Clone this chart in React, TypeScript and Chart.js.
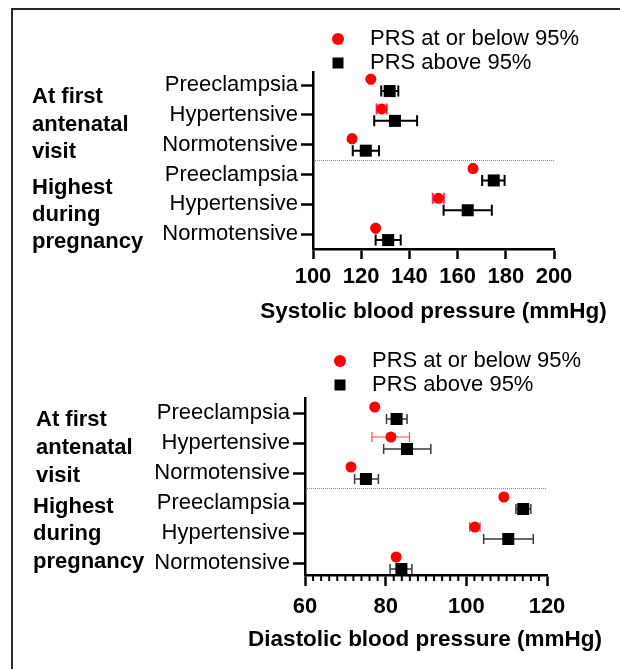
import React, { useEffect, useRef } from "react";
import { Chart, registerables } from "chart.js";

Chart.register(...registerables);

// ---------------- data ----------------
const categories = [
  "Preeclampsia",
  "Hypertensive",
  "Normotensive",
  "Preeclampsia",
  "Hypertensive",
  "Normotensive",
];
const groupFirst = ["At first", "antenatal", "visit"];
const groupHighest = ["Highest", "during", "pregnancy"];
const seriesNames = ["PRS at or below 95%", "PRS above 95%"];

// Systolic (mmHg)
const sysTicks = [100, 120, 140, 160, 180, 200];
const sysBelowMean = [124, 128.5, 116.2, 166.4, 152, 126];
const sysBelowLo = [123.4, 126.4, 115.6, 165.8, 149.7, 125.4];
const sysBelowHi = [124.6, 130.6, 116.8, 167.0, 154.3, 126.6];
const sysAboveMean = [131.8, 134, 121.9, 175, 164.2, 131.2];
const sysAboveLo = [128.3, 125.4, 116.5, 170.2, 154.2, 126];
const sysAboveHi = [135.4, 143.2, 127.4, 179.5, 174.2, 136.4];

// Diastolic (mmHg)
const diaTicks = [60, 80, 100, 120];
const diaBelowMean = [77.3, 81.3, 71.4, 109.3, 102.1, 82.6];
const diaBelowLo = [77.0, 76.6, 71.1, 109.0, 100.8, 82.3];
const diaBelowHi = [77.6, 85.9, 71.7, 109.6, 103.4, 82.9];
const diaAboveMean = [82.7, 85.3, 75.1, 114.1, 110.4, 83.9];
const diaAboveLo = [80.2, 79.5, 72.3, 112.3, 104.3, 81.1];
const diaAboveHi = [85.3, 91.2, 78.2, 116.0, 116.6, 86.5];

// ---------------- styling ----------------
const FONT = "'Liberation Sans', Arial, Helvetica, sans-serif";
const RED_OFF = -0.2;
const BLACK_OFF = 0.2;

// ---------------- plugins ----------------
const errorBarPlugin = {
  id: "errorBars",
  beforeDatasetsDraw(chart: any) {
    const ctx = chart.ctx;
    const xs = chart.scales.x;
    const ys = chart.scales.y;
    chart.data.datasets.forEach((ds: any) => {
      if (!ds.errLo) return;
      ctx.save();
      ctx.strokeStyle = ds.errColor;
      ctx.lineWidth = ds.errWidth;
      ds.data.forEach((p: any, i: number) => {
        const y = ys.getPixelForValue(p.y);
        const x1 = xs.getPixelForValue(ds.errLo[i]);
        const x2 = xs.getPixelForValue(ds.errHi[i]);
        const c = ds.capHalf;
        ctx.beginPath();
        ctx.moveTo(x1, y);
        ctx.lineTo(x2, y);
        ctx.moveTo(x1, y - c);
        ctx.lineTo(x1, y + c);
        ctx.moveTo(x2, y - c);
        ctx.lineTo(x2, y + c);
        ctx.stroke();
      });
      ctx.restore();
    });
  },
};

const separatorPlugin = {
  id: "separator",
  beforeDatasetsDraw(chart: any, _args: any, opts: any) {
    if (opts == null || opts.value == null) return;
    const { ctx, chartArea } = chart;
    const y = Math.round(chart.scales.y.getPixelForValue(opts.value)) + 0.5;
    ctx.save();
    ctx.strokeStyle = "#8a8a8a";
    ctx.lineWidth = 1;
    ctx.setLineDash([1, 1]);
    ctx.beginPath();
    ctx.moveTo(chartArea.left + 2, y);
    ctx.lineTo(chartArea.right, y);
    ctx.stroke();
    ctx.restore();
  },
};

const minorTickPlugin = {
  id: "minorTicks",
  afterDraw(chart: any, _args: any, opts: any) {
    if (!opts || !opts.step) return;
    const { ctx, chartArea } = chart;
    const xs = chart.scales.x;
    ctx.save();
    ctx.strokeStyle = "#000";
    ctx.lineWidth = opts.width;
    for (let v = xs.min; v <= xs.max + 1e-9; v += opts.step) {
      if (Math.abs(v % opts.major) < 1e-9) continue;
      const x = xs.getPixelForValue(v);
      ctx.beginPath();
      ctx.moveTo(x, chartArea.bottom);
      ctx.lineTo(x, chartArea.bottom + opts.length);
      ctx.stroke();
    }
    ctx.restore();
  },
};

const panelTextPlugin = {
  id: "panelText",
  afterDraw(chart: any, _args: any, opts: any) {
    if (!opts) return;
    const ctx = chart.ctx;
    ctx.save();
    ctx.fillStyle = "#000";
    ctx.textBaseline = "middle";
    ctx.textAlign = "left";
    // legend
    const lg = opts.legend;
    chart.data.datasets.forEach((ds: any, i: number) => {
      const y = lg.y + i * lg.dy;
      ctx.fillStyle = ds.backgroundColor;
      if (ds.pointStyle === "circle") {
        ctx.beginPath();
        ctx.arc(lg.markerX, y, 6, 0, Math.PI * 2);
        ctx.fill();
      } else {
        ctx.fillRect(lg.markerX - 5.5, y - 5.5, 11, 11);
      }
      ctx.fillStyle = "#000";
      ctx.font = `22px ${FONT}`;
      ctx.fillText(ds.label, lg.textX, y);
    });
    // group labels
    ctx.font = `bold 22px ${FONT}`;
    opts.groups.forEach((g: any) => {
      g.lines.forEach((line: string, j: number) => {
        ctx.fillText(line, g.x, g.ys[j]);
      });
    });
    // axis title, centred under the x scale
    const xs = chart.scales.x;
    ctx.textAlign = "center";
    ctx.font = `bold 22.5px ${FONT}`;
    ctx.fillText(opts.title, (xs.left + xs.right) / 2 + opts.titleDx, opts.titleY);
    ctx.restore();
  },
};

// ---------------- config ----------------
function buildConfig(p: any): any {
  const below = p.belowMean.map((v: number, i: number) => ({ x: v, y: i + 1 + RED_OFF }));
  const above = p.aboveMean.map((v: number, i: number) => ({ x: v, y: i + 1 + BLACK_OFF }));
  const tickFont = { family: FONT, size: 22 };
  return {
    type: "scatter",
    data: {
      datasets: [
        {
          label: seriesNames[0],
          data: below,
          pointStyle: "circle",
          pointRadius: 5.5,
          pointHoverRadius: 5.5,
          backgroundColor: "#ff0000",
          borderWidth: 0,
          errLo: p.belowLo,
          errHi: p.belowHi,
          errColor: p.redErrColor,
          errWidth: p.redErrWidth,
          capHalf: p.cap,
        },
        {
          label: seriesNames[1],
          data: above,
          pointStyle: "rect",
          pointRadius: 8.5,
          pointHoverRadius: 8.5,
          backgroundColor: "#000000",
          borderWidth: 0,
          errLo: p.aboveLo,
          errHi: p.aboveHi,
          errColor: p.blackErrColor,
          errWidth: p.blackErrWidth,
          capHalf: p.cap,
        },
      ],
    },
    options: {
      animation: false,
      responsive: false,
      devicePixelRatio: 1,
      layout: { padding: p.padding },
      scales: {
        x: {
          type: "linear",
          min: p.ticks[0],
          max: p.ticks[p.ticks.length - 1],
          afterFit: (s: any) => {
            s.height = p.xHeight;
          },
          afterBuildTicks: (s: any) => {
            s.ticks = p.ticks.map((v: number) => ({ value: v }));
          },
          border: { display: true, color: "#000", width: 2.5 },
          grid: {
            display: true,
            drawOnChartArea: false,
            drawTicks: true,
            tickLength: p.xTickLen,
            tickWidth: 2.5,
            tickColor: "#000",
          },
          ticks: {
            autoSkip: false,
            maxRotation: 0,
            padding: p.xTickPad,
            color: "#000",
            font: { ...tickFont, weight: "bold" },
          },
          title: { display: false },
        },
        y: {
          type: "linear",
          reverse: true,
          min: p.yMin,
          max: p.yMax,
          afterFit: (s: any) => {
            s.width = p.yWidth;
          },
          afterBuildTicks: (s: any) => {
            s.ticks = categories.map((_c, i) => ({ value: i + 1 }));
          },
          border: { display: true, color: "#000", width: 2.5 },
          grid: {
            display: true,
            drawOnChartArea: false,
            drawTicks: true,
            tickLength: 12,
            tickWidth: 2.5,
            tickColor: "#000",
          },
          ticks: {
            autoSkip: false,
            padding: 3,
            color: "#000",
            font: tickFont,
            callback: (v: number) => categories[Math.round(v) - 1] ?? "",
          },
        },
      },
      plugins: {
        legend: { display: false },
        tooltip: { enabled: false },
        separator: { value: 3.5 },
        minorTicks: p.minor,
        panelText: {
          legend: p.legend,
          title: p.title,
          titleY: p.titleY,
          titleDx: p.titleDx,
          groups: [
            { x: p.groups[0].x, ys: p.groups[0].ys, lines: groupFirst },
            { x: p.groups[1].x, ys: p.groups[1].ys, lines: groupHighest },
          ],
        },
      },
    },
    plugins: [errorBarPlugin, separatorPlugin, minorTickPlugin, panelTextPlugin],
  };
}

const systolicPanel = {
  top: 0,
  height: 335,
  title: "Systolic blood pressure (mmHg)",
  titleY: 312,
  titleDx: 0,
  ticks: sysTicks,
  belowMean: sysBelowMean,
  belowLo: sysBelowLo,
  belowHi: sysBelowHi,
  aboveMean: sysAboveMean,
  aboveLo: sysAboveLo,
  aboveHi: sysAboveHi,
  padding: { top: 72, right: 66, left: 0, bottom: 0 },
  yWidth: 313,
  xHeight: 86,
  yMin: 0.56,
  yMax: 6.5,
  xTickLen: 10,
  xTickPad: 5,
  cap: 5.5,
  redErrColor: "#ff2d6a",
  redErrWidth: 2,
  blackErrColor: "#000",
  blackErrWidth: 2,
  minor: {},
  legend: { markerX: 338, textX: 370, y: 39, dy: 24 },
  groups: [
    { x: 32, ys: [97, 125, 152] },
    { x: 32, ys: [188, 215, 242] },
  ],
};

const diastolicPanel = {
  top: 335,
  height: 334,
  title: "Diastolic blood pressure (mmHg)",
  titleY: 305,
  titleDx: -1,
  ticks: diaTicks,
  belowMean: diaBelowMean,
  belowLo: diaBelowLo,
  belowHi: diaBelowHi,
  aboveMean: diaAboveMean,
  aboveLo: diaAboveLo,
  aboveHi: diaAboveHi,
  padding: { top: 63, right: 73, left: 0, bottom: 0 },
  yWidth: 305,
  xHeight: 94,
  yMin: 0.5,
  yMax: 6.4,
  xTickLen: 11,
  xTickPad: 7.5,
  cap: 5,
  redErrColor: "#ff4a4a",
  redErrWidth: 1.2,
  blackErrColor: "#3a3a3a",
  blackErrWidth: 1.5,
  minor: { step: 2, major: 20, length: 6, width: 2 },
  legend: { markerX: 340, textX: 372, y: 26, dy: 24 },
  groups: [
    { x: 36, ys: [85, 113, 141] },
    { x: 33, ys: [172, 199, 227] },
  ],
};

function Panel({ cfg }: { cfg: any }) {
  const ref = useRef<HTMLCanvasElement | null>(null);
  useEffect(() => {
    if (!ref.current) return;
    const chart = new Chart(ref.current, buildConfig(cfg));
    return () => chart.destroy();
  }, [cfg]);
  return (
    <canvas
      ref={ref}
      width={620}
      height={cfg.height}
      style={{ position: "absolute", left: 0, top: cfg.top, width: 620, height: cfg.height }}
    />
  );
}

export default function App() {
  return (
    <div
      style={{
        position: "absolute",
        left: 0,
        top: 0,
        width: 620,
        height: 669,
        overflow: "hidden",
        background: "#fff",
      }}
    >
      <div
        style={{
          position: "absolute",
          left: 11,
          top: 8,
          width: 800,
          height: 900,
          borderLeft: "2px solid #2a2a2a",
          borderTop: "2px solid #2a2a2a",
        }}
      />
      <Panel cfg={systolicPanel} />
      <Panel cfg={diastolicPanel} />
    </div>
  );
}
